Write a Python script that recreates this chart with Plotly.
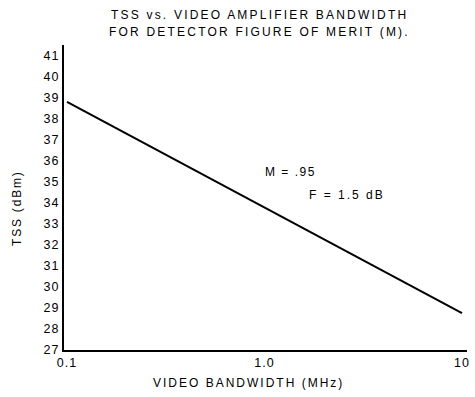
import plotly.graph_objects as go

bandwidth_mhz = [0.1, 1.0, 10]
tss_dbm = [38.81, 33.78, 28.76]
y_ticks = list(range(27, 42))
x_ticks = [0.1, 1.0, 10]
x_tick_text = ["0.1", "1.0", "10"]

FONT = "Liberation Sans, Arial, Helvetica, sans-serif"

def spaced(s, px):
    return f'<span style="letter-spacing:{px}px">{s}</span>'

fig = go.Figure()
fig.add_trace(go.Scatter(x=bandwidth_mhz, y=tss_dbm, mode="lines",
                         line=dict(color="black", width=2), showlegend=False,
                         hoverinfo="skip"))

fig.update_layout(
    width=475, height=397,
    margin=dict(l=64, r=8, t=45, b=47),
    paper_bgcolor="white", plot_bgcolor="white",
    font=dict(family=FONT, size=12, color="black"),
    xaxis=dict(type="log", range=[-1.0152, 1.0253], tickvals=x_ticks,
               ticktext=[spaced(t, 1) for t in x_tick_text],
               showline=True, linecolor="black", linewidth=2, showgrid=False, zeroline=False,
               ticks="", tickfont=dict(size=12.5), automargin=False),
    yaxis=dict(range=[27, 41.524], tickvals=y_ticks,
               ticktext=[spaced(str(v), 1) for v in y_ticks],
               showline=True, linecolor="black", linewidth=2, showgrid=False, zeroline=False,
               ticks="", tickfont=dict(size=12.5), automargin=False),
)

def note(text, x, y, xanchor="center", angle=0, sp=2.2, size=12):
    fig.add_annotation(text=spaced(text, sp), xref="paper", yref="paper", x=x, y=y,
                       xanchor=xanchor, yanchor="middle", showarrow=False,
                       textangle=angle, font=dict(size=size, family=FONT, color="black"))

note("TSS vs. VIDEO AMPLIFIER BANDWIDTH", 0.486, 1.098)
note("FOR DETECTOR FIGURE OF MERIT (M).", 0.486, 1.0426)
note("VIDEO BANDWIDTH (MHz)", 0.4566, -0.108, sp=2.0)
note("TSS (dBm)", -0.1166, 0.4656, angle=-90, sp=1.8)
note("M = .95", 0.4938, 0.5836, xanchor="left", sp=1.5)
note("F = 1.5 dB", 0.603, 0.508, xanchor="left", sp=2.0)

fig.write_html("out.html", config={"displayModeBar": False},
               post_script="document.body.style.margin='0';document.body.style.overflow='hidden';")
